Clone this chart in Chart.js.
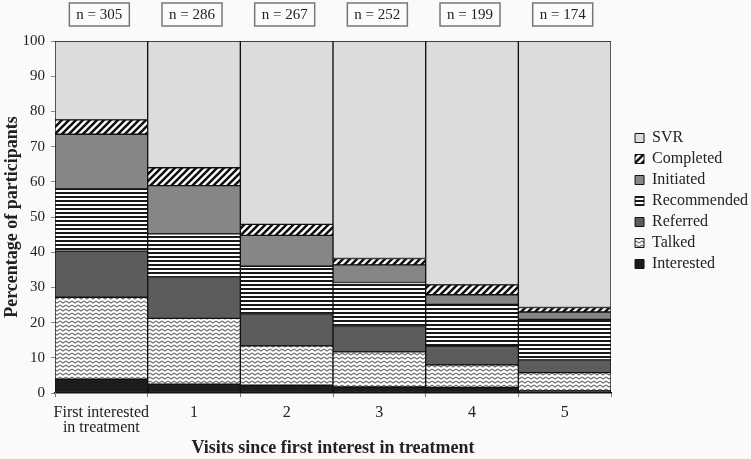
<!DOCTYPE html>
<html>
<head>
<meta charset="utf-8">
<script src="https://cdn.jsdelivr.net/npm/chart.js@4"></script>
<style>
  html, body { margin: 0; padding: 0; background: #fafafa; }
  #wrap { width: 751px; height: 459px; }
</style>
</head>
<body>
<div id="wrap"><canvas id="visitsChart"></canvas></div>
<script>
// visits since first interest, n per visit
const visits = [["First interested", "in treatment"], "1", "2", "3", "4", "5"];
const nCounts = [305, 286, 267, 252, 199, 174];

// % of participants at each cascade stage (stacked, bottom to top)
const interested = [3.9, 2.5, 2.2, 1.7, 1.6, 0.6];
const talked = [23.3, 18.7, 11.2, 10.0, 6.4, 5.2];
const referred = [13.1, 11.6, 8.9, 7.2, 5.3, 3.6];
const recommended = [17.7, 12.4, 13.7, 12.5, 11.9, 11.5];
const initiated = [15.5, 13.7, 8.8, 5.0, 2.7, 2.1];
const completed = [4.1, 5.1, 3.1, 1.8, 2.8, 1.3];
const svr = [22.4, 36.0, 52.1, 61.8, 69.3, 75.7];

const canvas = document.getElementById("visitsChart");
const mainCtx = canvas.getContext("2d");

function makePattern(w, h, paint) {
  const c = document.createElement("canvas");
  c.width = w;
  c.height = h;
  const g = c.getContext("2d");
  g.fillStyle = "#fff";
  g.fillRect(0, 0, w, h);
  paint(g, w, h);
  return mainCtx.createPattern(c, "repeat");
}

// diagonal stripes "/"
const diagPattern = makePattern(7, 7, (g, s) => {
  g.strokeStyle = "#111";
  g.lineWidth = 2.6;
  g.beginPath();
  g.moveTo(-1, s + 1); g.lineTo(s + 1, -1);
  g.moveTo(-2, 2); g.lineTo(2, -2);
  g.moveTo(s - 2, s + 2); g.lineTo(s + 2, s - 2);
  g.stroke();
});

// horizontal stripes
const hStripePattern = makePattern(4, 4, (g) => {
  g.fillStyle = "#1a1a1a";
  g.fillRect(0, 0, 4, 2);
});

// wavy lines
const wavePattern = makePattern(6, 4, (g) => {
  g.strokeStyle = "#747474";
  g.lineWidth = 1.2;
  g.beginPath();
  g.moveTo(0, 1);
  g.lineTo(3, 3);
  g.lineTo(6, 1);
  g.stroke();
});

Chart.defaults.font.family = "'Liberation Serif', 'DejaVu Serif', serif";
Chart.defaults.color = "#222";

const nBoxes = {
  id: "nBoxes",
  afterDraw(chart) {
    const ctx = chart.ctx;
    const xs = chart.scales.x;
    ctx.save();
    ctx.font = "15px 'Liberation Serif'";
    ctx.textAlign = "center";
    ctx.textBaseline = "middle";
    nCounts.forEach((n, i) => {
      const cx = xs.getPixelForValue(i) - 2;
      ctx.fillStyle = "#fcfcfc";
      ctx.fillRect(cx - 30, 3, 60, 23);
      ctx.strokeStyle = "#777";
      ctx.lineWidth = 1.5;
      ctx.strokeRect(cx - 30, 3, 60, 23);
      ctx.fillStyle = "#222";
      ctx.fillText("n = " + n, cx, 15);
    });
    ctx.restore();
  },
};

// nudge legend items to the right / up
const legendShift = {
  id: "legendShift",
  afterLayout(chart) {
    const lg = chart.legend;
    lg.left += 19;
    lg.right += 19;
    lg.top = 125;
  },
};

function ds(label, data, color) {
  return {
    label: label,
    data: data,
    backgroundColor: color,
    borderColor: "#111",
    borderWidth: 1,
    borderSkipped: false,
    barPercentage: 1,
    categoryPercentage: 1,
  };
}

new Chart(canvas, {
  type: "bar",
  data: {
    labels: visits,
    datasets: [
      ds("Interested", interested, "#1c1c1c"),
      ds("Talked", talked, wavePattern),
      ds("Referred", referred, "#5c5c5c"),
      ds("Recommended", recommended, hStripePattern),
      ds("Initiated", initiated, "#868686"),
      ds("Completed", completed, diagPattern),
      ds("SVR", svr, "#dcdcdc"),
    ],
  },
  options: {
    responsive: true,
    maintainAspectRatio: false,
    animation: false,
    layout: {
      padding: { top: 41, right: 12, left: 2, bottom: 0 },
    },
    plugins: {
      tooltip: { enabled: false },
      legend: {
        position: "right",
        align: "start",
        reverse: true,
        labels: {
          boxWidth: 9,
          boxHeight: 9,
          padding: 5,
          font: { size: 16 },
          color: "#222",
        },
      },
    },
    scales: {
      x: {
        stacked: true,
        afterFit: (scale) => { scale.height = 66; },
        grid: { drawOnChartArea: false, tickLength: 4, color: "#777" },
        border: { color: "#111", width: 1.5 },
        ticks: { font: { size: 16, lineHeight: 0.95 }, maxRotation: 0, autoSkip: false, padding: 8 },
        title: {
          display: true,
          text: "Visits since first interest in treatment",
          font: { size: 18, weight: "bold" },
          padding: { top: 2, bottom: 0 },
        },
      },
      y: {
        stacked: true,
        min: 0,
        max: 100,
        afterFit: (scale) => { scale.width = 53; },
        grid: { drawOnChartArea: false, tickLength: 4, color: "#888" },
        border: { color: "#999", width: 1 },
        ticks: { stepSize: 10, font: { size: 15 }, padding: 6 },
        title: {
          display: true,
          text: "Percentage of participants",
          font: { size: 18, weight: "bold" },
          padding: { top: 0, bottom: 0 },
        },
      },
    },
  },
  plugins: [nBoxes, legendShift],
});
</script>
</body>
</html>
